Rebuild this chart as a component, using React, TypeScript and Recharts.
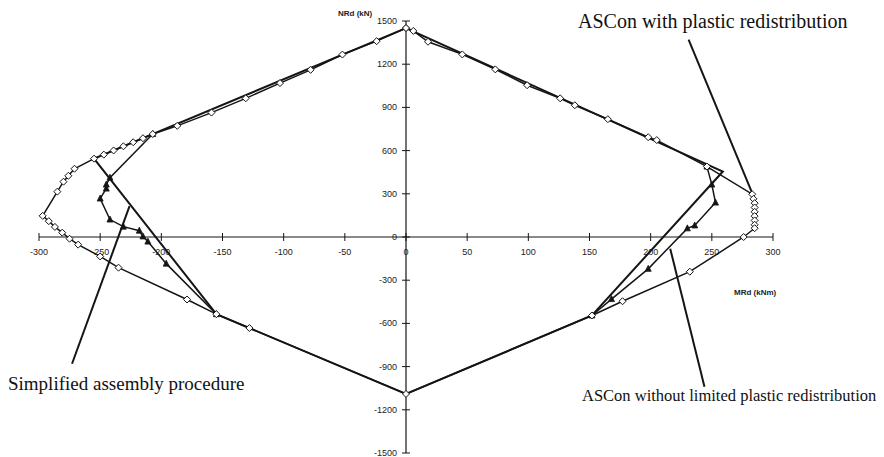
import React from 'react';
import { ScatterChart, Scatter, XAxis, YAxis, ReferenceLine } from 'recharts';

// M-N interaction diagram (MRd in kNm, NRd in kN)
const outerM = [0, 6, 18, 46, 73, 99, 126, 138, 165, 198, 205, 246, 283, 284, 285, 285, 285, 285, 285, 285, 285, 276, 232, 177, 152, 0, -128, -155, -179, -235, -250, -268, -275, -281, -287, -292, -297, -285, -280, -276, -271, -255, -247, -239, -231, -223, -215, -207, -187, -159, -131, -103, -78, -52, -24, 0];
const outerN = [1451, 1431, 1356, 1268, 1164, 1054, 963, 915, 818, 693, 673, 489, 297, 265, 235, 205, 175, 145, 115, 85, 61, 0, -241, -446, -545, -1090, -632, -536, -434, -213, -135, -53, -12, 30, 70, 110, 147, 315, 384, 425, 474, 544, 572, 601, 630, 658, 686, 715, 772, 864, 963, 1069, 1161, 1267, 1360, 1451];

const innerRightM = [246, 250, 253, 236, 230, 198, 168, 152];
const innerRightN = [489, 364, 239, 80, 60, -221, -431, -545];
const innerLeftM = [-155, -196, -211, -215, -218, -231, -242, -250, -245, -245, -242, -207];
const innerLeftN = [-536, -185, -32, 4, 44, 72, 121, 267, 336, 364, 412, 715];

const simpleM = [0, 259, 152, 0, -155, -255, 0];
const simpleN = [1451, 455, -545, -1090, -536, 544, 1451];

const xTicks = [-300, -250, -200, -150, -100, -50, 0, 50, 100, 150, 200, 250, 300];
const yTicks = [-1500, -1200, -900, -600, -300, 0, 300, 600, 900, 1200, 1500];

const leaders = [
  [{ x: 231, y: 1371 }, { x: 283, y: 304 }],
  [{ x: 216, y: -82 }, { x: 244, y: -1040 }],
  [{ x: -273, y: -880 }, { x: -226, y: 214 }],
];

const toPoints = (m: number[], n: number[]) => m.map((v, i) => ({ m: v, n: n[i] }));

const INK = '#151515';

const Diamond = (p: any) => (
  <polygon
    points={`${p.cx},${p.cy - 3.5} ${p.cx + 3.5},${p.cy} ${p.cx},${p.cy + 3.5} ${p.cx - 3.5},${p.cy}`}
    fill="#fff"
    stroke={INK}
    strokeWidth={1}
  />
);

const Triangle = (p: any) => (
  <polygon
    points={`${p.cx},${p.cy - 3.5} ${p.cx + 3},${p.cy + 2.5} ${p.cx - 3},${p.cy + 2.5}`}
    fill={INK}
    stroke={INK}
    strokeWidth={0.8}
  />
);

const NoMark = () => <g />;

const XTick = (p: any) => (
  <g>
    <line x1={p.cx} y1={p.cy - 4} x2={p.cx} y2={p.cy + 4} stroke={INK} strokeWidth={1} />
    <text x={p.cx} y={p.cy + 18} textAnchor="middle" fontSize={9} fontFamily="Liberation Sans, Arial" fill="#222">
      {p.payload.m}
    </text>
  </g>
);

const YTick = (p: any) => (
  <g>
    <line x1={p.cx - 4} y1={p.cy} x2={p.cx + 4} y2={p.cy} stroke={INK} strokeWidth={1} />
    <text x={p.cx - 9} y={p.cy + 3} textAnchor="end" fontSize={9} fontFamily="Liberation Sans, Arial" fill="#222">
      {p.payload.n}
    </text>
  </g>
);

const noteStyle: React.CSSProperties = {
  position: 'absolute',
  fontFamily: '"Liberation Serif", "Times New Roman", serif',
  color: '#111',
  whiteSpace: 'nowrap',
  lineHeight: '20px',
};

const smallStyle: React.CSSProperties = {
  position: 'absolute',
  fontFamily: '"Liberation Sans", Arial, sans-serif',
  fontSize: 8,
  fontWeight: 'bold',
  color: '#222',
  whiteSpace: 'nowrap',
};

export default function App() {
  return (
    <div style={{ position: 'relative', width: 884, height: 457, background: '#fff', overflow: 'hidden' }}>
      <style>{'body{margin:0}'}</style>
      <ScatterChart width={884} height={457} margin={{ top: 21, right: 111, bottom: 4, left: 39 }}>
        <XAxis type="number" dataKey="m" domain={[-300, 300]} hide />
        <YAxis type="number" dataKey="n" domain={[-1500, 1500]} hide />
        <ReferenceLine y={0} stroke={INK} strokeWidth={1} />
        <ReferenceLine x={0} stroke={INK} strokeWidth={1.2} />
        <Scatter data={xTicks.map((v) => ({ m: v, n: 0 }))} shape={XTick} isAnimationActive={false} />
        <Scatter data={yTicks.map((v) => ({ m: 0, n: v }))} shape={YTick} isAnimationActive={false} />
        {leaders.map((seg, i) => (
          <ReferenceLine key={i} segment={seg} stroke={INK} strokeWidth={2} ifOverflow="visible" />
        ))}
        <Scatter
          data={toPoints(simpleM, simpleN)}
          line={{ stroke: INK, strokeWidth: 2 }}
          lineType="joint"
          shape={NoMark}
          isAnimationActive={false}
        />
        <Scatter
          data={toPoints(innerRightM, innerRightN)}
          line={{ stroke: INK, strokeWidth: 1.5 }}
          lineType="joint"
          shape={Triangle}
          isAnimationActive={false}
        />
        <Scatter
          data={toPoints(innerLeftM, innerLeftN)}
          line={{ stroke: INK, strokeWidth: 1.5 }}
          lineType="joint"
          shape={Triangle}
          isAnimationActive={false}
        />
        <Scatter
          data={toPoints(outerM, outerN)}
          line={{ stroke: INK, strokeWidth: 1.5 }}
          lineType="joint"
          shape={Diamond}
          isAnimationActive={false}
        />
      </ScatterChart>
      <div style={{ ...smallStyle, left: 338, top: 9 }}>NRd (kN)</div>
      <div style={{ ...smallStyle, left: 734, top: 288 }}>MRd (kNm)</div>
      <div style={{ ...noteStyle, fontSize: 20, left: 578, top: 11 }}>ASCon with plastic redistribution</div>
      <div style={{ ...noteStyle, fontSize: 19, left: 8, top: 374 }}>Simplified assembly procedure</div>
      <div style={{ ...noteStyle, fontSize: 16.5, left: 582, top: 386 }}>ASCon without limited plastic redistribution</div>
    </div>
  );
}
